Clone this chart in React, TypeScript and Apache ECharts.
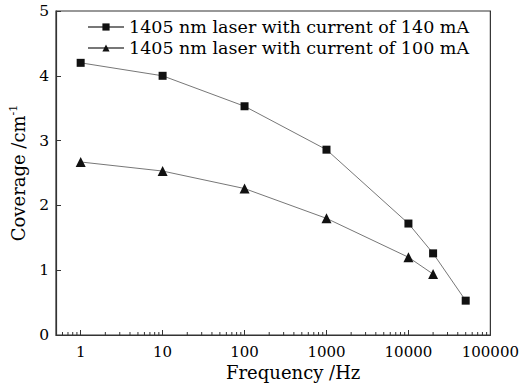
import React, { useEffect, useRef } from "react";
import * as echarts from "echarts";

const frequencies140 = [1, 10, 100, 1000, 10000, 20000, 50000];
const coverage140 = [4.2, 4.0, 3.53, 2.86, 1.72, 1.26, 0.53];
const frequencies100 = [1, 10, 100, 1000, 10000, 20000];
const coverage100 = [2.67, 2.53, 2.26, 1.8, 1.2, 0.94];
const seriesNames = [
  "1405 nm laser with current of 140 mA",
  "1405 nm laser with current of 100 mA",
];
const majorTicks = [1, 10, 100, 1000, 10000, 100000];
const minorTicks = [
  0.6, 0.7, 0.8, 0.9,
  2, 3, 4, 5, 6, 7, 8, 9,
  20, 30, 40, 50, 60, 70, 80, 90,
  200, 300, 400, 500, 600, 700, 800, 900,
  2000, 3000, 4000, 5000, 6000, 7000, 8000, 9000,
  20000, 30000, 40000, 50000, 60000, 70000, 80000, 90000,
];

const FONT = "DejaVu Serif";

export default function App() {
  const ref = useRef<HTMLDivElement>(null);
  useEffect(() => {
    if (!ref.current) return;
    const chart = echarts.init(ref.current, null, { renderer: "svg" });
    chart.setOption({
      animation: false,
      backgroundColor: "#fff",
      textStyle: { fontFamily: FONT, color: "#000" },
      grid: {
        left: 52,
        right: 29,
        top: 11,
        bottom: 53,
        show: true,
        borderColor: "#333",
        borderWidth: 1.2,
      },
      legend: {
        orient: "vertical",
        left: 82,
        top: 12,
        itemWidth: 36,
        itemHeight: 9,
        itemGap: 1,
        textStyle: { fontFamily: FONT, fontSize: 17.5, color: "#000", lineHeight: 20 },
        data: seriesNames,
      },
      xAxis: {
        type: "log",
        logBase: 10,
        min: 0.5,
        max: 100000,
        name: "Frequency /Hz",
        nameLocation: "middle",
        nameGap: 27,
        nameTextStyle: { fontFamily: FONT, fontSize: 18, color: "#000", padding: [0, 0, 0, 40] },
        axisLine: { lineStyle: { color: "#333", width: 1.2 } },
        axisTick: { inside: true, length: 5, lineStyle: { color: "#333" } },
        splitLine: { show: false },
        axisLabel: {
          fontFamily: FONT,
          fontSize: 15,
          color: "#000",
          margin: 9,
          formatter: (v: number) =>
            majorTicks.some((t) => Math.abs(t - v) / t < 1e-6) ? String(Math.round(v)) : "",
        },
      },
      yAxis: {
        type: "value",
        min: 0,
        max: 5,
        interval: 1,
        name: "Coverage /cm{sup|-1}",
        nameLocation: "middle",
        nameGap: 28,
        nameTextStyle: {
          fontFamily: FONT,
          fontSize: 18,
          color: "#000",
          rich: {
            sup: { fontFamily: FONT, fontSize: 11, color: "#000", verticalAlign: "top", padding: [0, 0, 9, 0] },
          },
        },
        axisLine: { show: true, lineStyle: { color: "#333", width: 1.2 } },
        axisTick: { show: true, inside: true, length: 5, lineStyle: { color: "#333" } },
        splitLine: { show: false },
        axisLabel: { fontFamily: FONT, fontSize: 15.5, color: "#000", margin: 7 },
      },
      series: [
        {
          name: seriesNames[0],
          type: "line",
          data: frequencies140.map((f, i) => [f, coverage140[i]]),
          symbol: "rect",
          symbolSize: 8,
          lineStyle: { color: "#777", width: 1 },
          itemStyle: { color: "#111" },
        },
        {
          name: seriesNames[1],
          type: "line",
          data: frequencies100.map((f, i) => [f, coverage100[i]]),
          symbol: "triangle",
          symbolSize: 10,
          lineStyle: { color: "#777", width: 1 },
          itemStyle: { color: "#111" },
        },
        {
          name: "minor",
          type: "custom",
          silent: true,
          data: minorTicks.map((v) => [v, 0]),
          renderItem: (params: any, api: any) => {
            const p = api.coord([api.value(0), 0]);
            return {
              type: "line",
              shape: { x1: p[0], y1: p[1], x2: p[0], y2: p[1] - 3 },
              style: { stroke: "#333", lineWidth: 1 },
            };
          },
          z: 3,
        },
      ],
    });
    return () => chart.dispose();
  }, []);
  return <div ref={ref} style={{ width: 522, height: 388, position: "absolute", left: 0, top: 0 }} />;
}
